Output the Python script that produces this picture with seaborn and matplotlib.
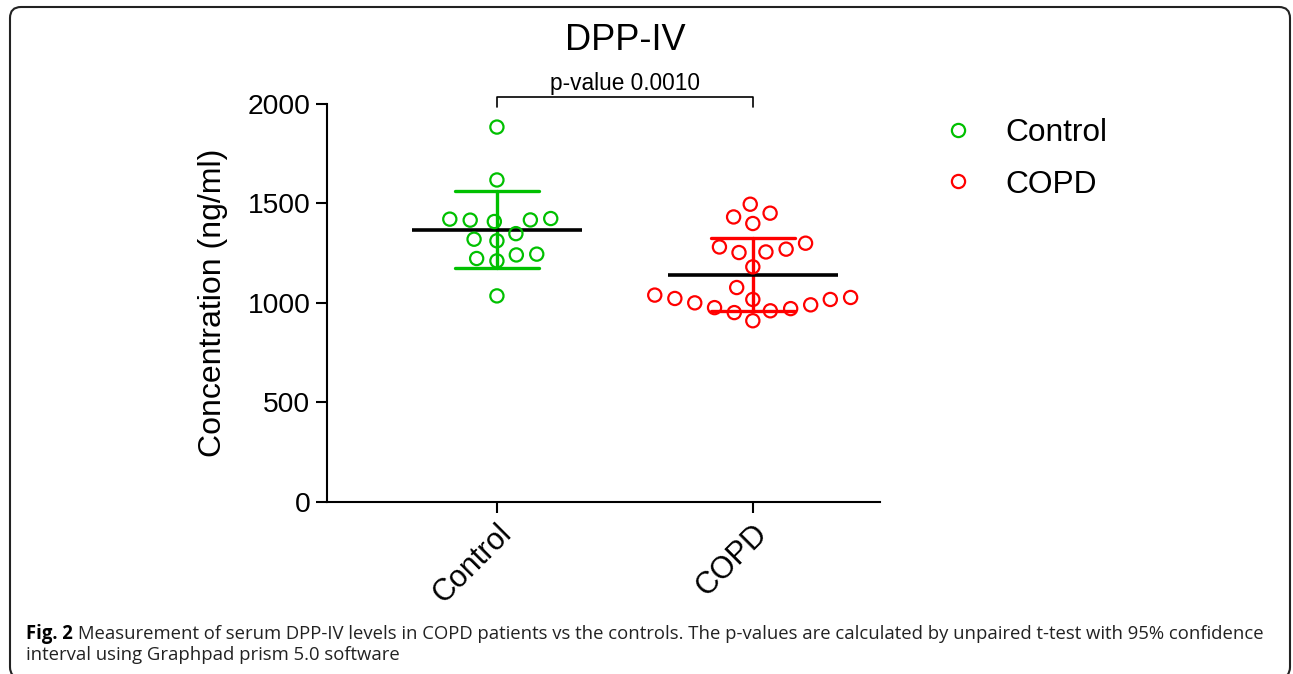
import numpy as np
import pandas as pd
import matplotlib
matplotlib.use("Agg")
import matplotlib.pyplot as plt
from matplotlib.lines import Line2D
from matplotlib.patches import FancyBboxPatch
from matplotlib.transforms import IdentityTransform
import seaborn as sns

# ---------------- data ----------------
groups = ["Control", "COPD"]
control_values = [1884, 1618, 1417, 1421, 1424, 1416, 1409, 1348, 1320, 1312,
                  1241, 1245, 1211, 1223, 1035]
copd_values = [1496, 1451, 1432, 1399, 1281, 1300, 1253, 1256, 1270, 1181,
               1077, 1039, 1027, 971, 976, 1000, 1017, 1022, 1017, 990,
               910, 951, 960]
group_colors = ["#00C000", "#FF0000"]
y_ticks = [0, 500, 1000, 1500, 2000]
title_text = "DPP-IV"
y_label = "Concentration (ng/ml)"
p_label = "p-value 0.0010"
caption_bold = "Fig. 2"
caption_line1 = ("Measurement of serum DPP-IV levels in COPD patients vs the controls. "
                 "The p-values are calculated by unpaired t-test with 95% confidence")
caption_line2 = "interval using Graphpad prism 5.0 software"

df = pd.DataFrame({
    "group": ["Control"] * len(control_values) + ["COPD"] * len(copd_values),
    "value": control_values + copd_values,
})
palette = dict(zip(groups, group_colors))

# ---------------- style ----------------
sns.set_theme(style="ticks")
plt.rcParams["font.family"] = ["Liberation Sans", "DejaVu Sans"]
plt.rcParams["text.color"] = "black"
plt.rcParams["axes.labelcolor"] = "black"

W, H = 1293, 674
fig = plt.figure(figsize=(W / 100, H / 100), dpi=100)
fig.patch.set_facecolor("white")
ax_left, ax_right, ax_top, ax_bottom = 327, 880, 104, 501.7
ax = fig.add_axes([ax_left / W, 1 - ax_bottom / H,
                   (ax_right - ax_left) / W, (ax_bottom - ax_top) / H])
ax.set_facecolor("white")
XLIM = (-0.664, 1.497)
YLIM = (0, 2000)

# swarm layout computed with a wider footprint, then markers shrunk
sns.swarmplot(data=df, x="group", y="value", hue="group", palette=palette,
              order=groups, hue_order=groups, size=14, ax=ax, legend=False,
              zorder=4)
ax.set_xlim(*XLIM)
ax.set_ylim(*YLIM)
fig.canvas.draw()
for coll in ax.collections:
    if "draw" in coll.__dict__:
        del coll.draw
    fcs = coll.get_facecolor()
    coll.set_edgecolor(fcs)
    coll.set_facecolor("none")
    coll.set_sizes([9.5 ** 2])
    coll.set_linewidth(1.6)

# mean +/- SD error bars (group coloured)
sns.pointplot(data=df, x="group", y="value", hue="group", palette=palette,
              order=groups, hue_order=groups, errorbar="sd", capsize=0.33,
              linestyle="none", markersize=0, err_kws={"linewidth": 2.4},
              legend=False, ax=ax)
# mean line (black)
sns.pointplot(data=df, x="group", y="value", order=groups, color="black",
              errorbar=None, linestyle="none", marker="_", markersize=122,
              markeredgewidth=2.6, ax=ax)

ax.set_xlim(*XLIM)
ax.set_ylim(*YLIM)
ax.set_yticks(y_ticks)
ax.set_xlabel("")
ax.set_ylabel(y_label, fontsize=23, color="black")
ax.yaxis.set_label_coords(-0.179, 0.5)
sns.despine(ax=ax)
for s in ["left", "bottom"]:
    ax.spines[s].set_linewidth(1.5)
    ax.spines[s].set_color("black")
ax.tick_params(axis="both", direction="out", length=8, width=1.5,
               color="black", labelcolor="black")
ax.tick_params(axis="y", labelsize=20.3, pad=4)
ax.tick_params(axis="x", labelsize=22, pad=4)
for lab in ax.get_xticklabels():
    lab.set_rotation(45)
    lab.set_ha("right")
    lab.set_va("top")
    lab.set_rotation_mode("anchor")

# title and significance bracket
ax.text(0.5, 1.16, title_text, transform=ax.get_xaxis_transform(),
        ha="center", va="center", fontsize=26, color="black")
ax.plot([0, 0, 1, 1], [1986, 2037, 2037, 1986], color="black", lw=1.2,
        clip_on=False)
ax.text(0.5, 2105, p_label, ha="center", va="center", fontsize=16.3,
        color="black", clip_on=False)

# legend
handles = [Line2D([], [], marker="o", linestyle="none", markerfacecolor="none",
                  markeredgecolor=c, markersize=9.5, markeredgewidth=1.6)
           for c in group_colors]
fig.legend(handles, groups, loc="upper left",
           bbox_to_anchor=(942 / W, 1 - 118 / H), frameon=False,
           fontsize=22.8, handlelength=1.0, handletextpad=1.0,
           borderpad=0, borderaxespad=0, labelspacing=0.68,
           labelcolor="black")

# outer rounded border
border = FancyBboxPatch((10, -4), 1280, 674 - 7 + 4,
                        boxstyle="round,pad=0,rounding_size=11",
                        transform=IdentityTransform(), fill=False,
                        edgecolor="#222222", linewidth=1.5)
fig.patches.append(border)
border.set_figure(fig)

# caption: size fitted so the first line spans the same width as the reference
cap_family = ["Open Sans", "DejaVu Sans"]
cap_left, cap_right = 26, 1272
size = 14.0
t1 = fig.text(cap_left / W, 1 - 639 / H, caption_bold, fontsize=size,
              weight="bold", family=cap_family, va="baseline", ha="left")
t2 = fig.text(0, 1 - 639 / H, caption_line1, fontsize=size,
              family=cap_family, va="baseline", ha="left", color="#222222")
fig.canvas.draw()
r = fig.canvas.get_renderer()
total = (t1.get_window_extent(r).width + 5 * size / 14 +
         t2.get_window_extent(r).width)
size = size * (cap_right - cap_left) / total
t1.set_fontsize(size)
t2.set_fontsize(size)
fig.canvas.draw()
bb = t1.get_window_extent(r)
t2.set_x((bb.x1 + 5 * size / 14) / W)
fig.text(cap_left / W, 1 - 660 / H, caption_line2, fontsize=size,
         family=cap_family, va="baseline", ha="left", color="#222222")

fig.savefig("out.png", dpi=100, facecolor="white")
